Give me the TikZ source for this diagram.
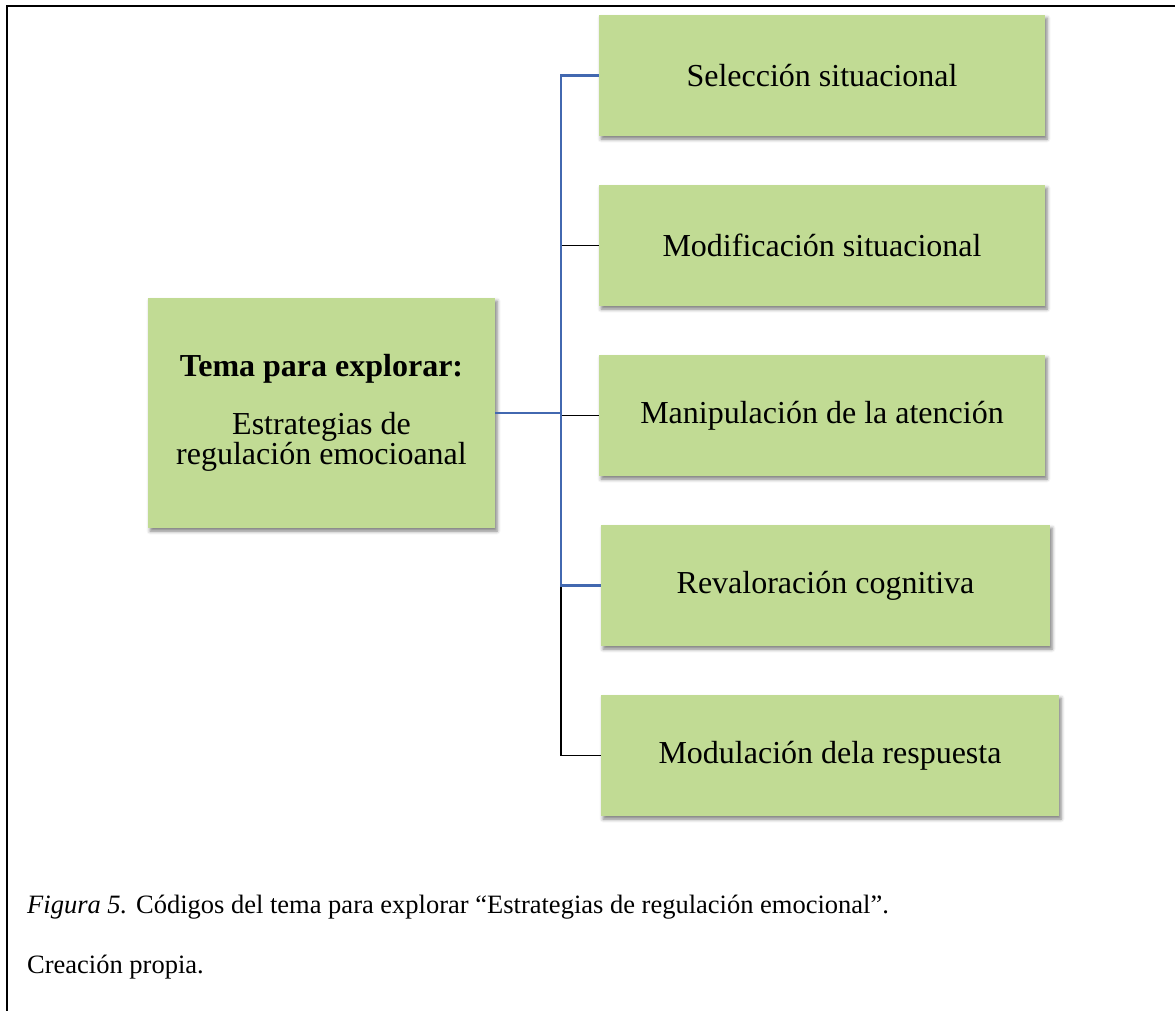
\documentclass[tikz,border=0pt]{standalone}
\usepackage{fontspec}
\setmainfont{Liberation Serif}
\usetikzlibrary{shadows.blur}
\definecolor{boxgreen}{RGB}{193,219,148}
\definecolor{connblue}{RGB}{66,104,176}
\tikzset{
  box/.style={fill=boxgreen, draw=none, inner sep=0pt, align=center,
    font=\fontsize{32}{38}\selectfont,
    blur shadow={shadow xshift=2pt, shadow yshift=-3pt, shadow blur radius=3.5pt, shadow opacity=50}},
  blk/.style={draw=black, line width=1.3pt},
  blu/.style={draw=connblue, line width=2.2pt},
  frame/.style={draw=black, line width=2pt},
  captext/.style={anchor=base west, inner sep=0pt, font=\fontsize{26.5}{30}\selectfont}
}
\begin{document}
\begin{tikzpicture}[x=1pt, y=-1pt]
\useasboundingbox (0,0) rectangle (1175,1010);
% frame
\coordinate (fa) at (7,1012);
\coordinate (fb) at (7,6);
\coordinate (fc) at (1177,6);
\draw[frame] (fa) -- (fb) -- (fc);
% nodes
\node[box, minimum width=347pt, minimum height=230pt, font=\fontsize{32}{26}\selectfont] (p) at (321.5,413)
  {\textbf{Tema para explorar:}\\[28pt]Estrategias de\\regulación emocioanal};
\node[box, minimum width=446pt, minimum height=121pt] (c1) at (822,75.5) {Selección situacional};
\node[box, minimum width=446pt, minimum height=121pt] (c2) at (822,245.5) {Modificación situacional};
\node[box, minimum width=446pt, minimum height=121pt] (c3) at (822,415.5) {Manipulación de la atención};
\node[box, minimum width=449pt, minimum height=121pt] (c4) at (825.5,585.5) {Revaloración cognitiva};
\node[box, minimum width=458pt, minimum height=121pt] (c5) at (830,755.5) {Modulación dela respuesta};
% connectors
\coordinate (j) at (561,413);
\draw[blk] (j) |- (c2.west);
\draw[blk] (j) |- (c3.west);
\draw[blk] (j) |- (c5.west);
\draw[blu] (p.east) -- (j) |- (c1.west);
\draw[blu] (j) |- (c4.west);
% caption
\node[captext] (cap1) at (27,913) {\textit{Figura 5.} Códigos del tema para explorar “Estrategias de regulación emocional”.};
\node[captext] (cap2) at (27,973) {Creación propia.};
\end{tikzpicture}
\end{document}
